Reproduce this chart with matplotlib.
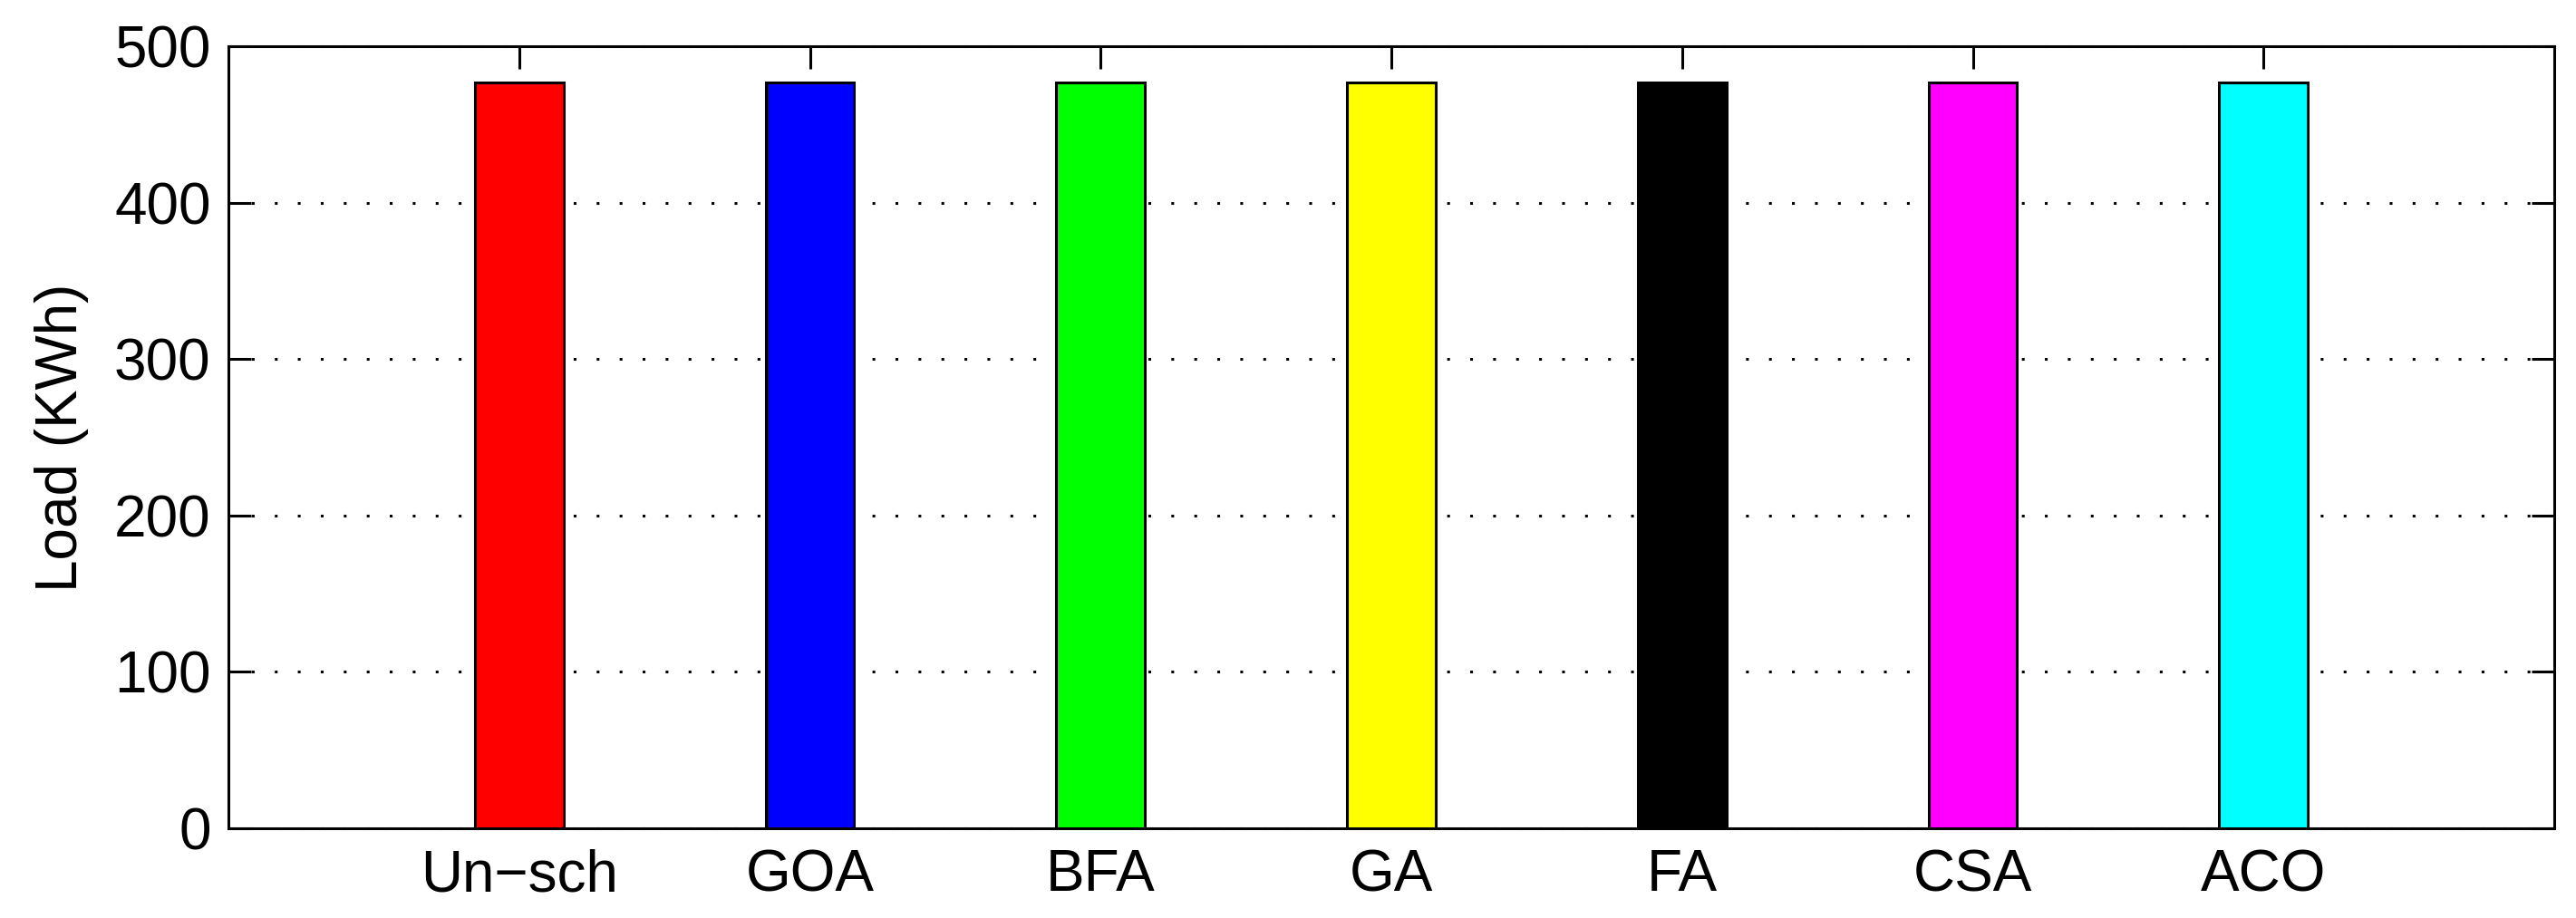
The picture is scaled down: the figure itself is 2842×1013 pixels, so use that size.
import matplotlib
matplotlib.use("Agg")
import matplotlib.pyplot as plt
import numpy as np

# data
methods = ["Un\u2212sch", "GOA", "BFA", "GA", "FA", "CSA", "ACO"]
load = [477, 477, 477, 477, 477, 477, 477]
colors = ["#ff0000", "#0000ff", "#00ff00", "#ffff00", "#000000", "#ff00ff", "#00ffff"]
yticks = [0, 100, 200, 300, 400, 500]

plt.rcParams['font.family'] = ['Liberation Sans', 'DejaVu Sans']

fig = plt.figure(figsize=(28.42, 10.13), dpi=100)
# axes box in pixels: left 252, right 2818, top 51, bottom 914
ax = fig.add_axes([252/2842, 1 - 914/1013, (2818-252)/2842, (914-51)/1013])

x = np.arange(1, len(methods) + 1)
ax.bar(x, load, width=0.305, color=colors, edgecolor='black', linewidth=2.2, zorder=3)

ax.set_xlim(0, 8)
ax.set_ylim(0, 500)
ax.set_xticks(x)
ax.set_xticklabels(methods)
ax.set_yticks(yticks)
ax.yaxis.grid(True, linestyle=(0, (1, 7.3)), color='black', linewidth=2.2, zorder=0)

for s in ax.spines.values():
    s.set_linewidth(2.2)
ax.tick_params(axis='both', direction='in', top=True, right=True, labelsize=46,
               width=2.2, length=18)
ax.tick_params(axis='x', pad=16)
ax.tick_params(axis='y', pad=14)
ax.set_ylabel("Load (KWh)", fontsize=46, labelpad=20)

fig.savefig("out.png", dpi=100)
